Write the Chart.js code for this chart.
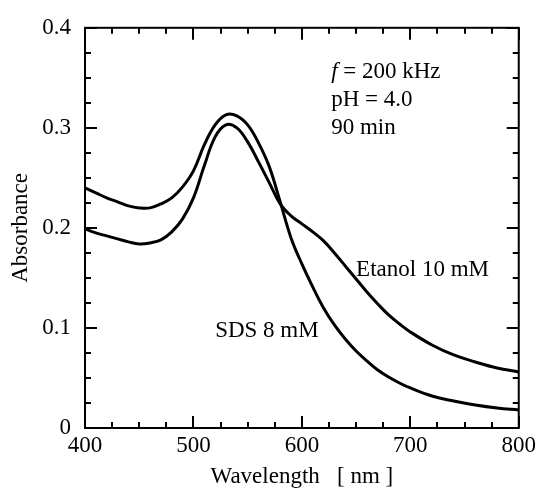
<!DOCTYPE html>
<html>
<head>
<meta charset="utf-8">
<script src="https://cdn.jsdelivr.net/npm/chart.js@4/dist/chart.umd.min.js"></script>
<style>
  html, body { margin: 0; padding: 0; background: #fff; }
  #wrap { width: 540px; height: 492px; position: relative; }
</style>
</head>
<body>
<div id="wrap"><canvas id="c" width="540" height="492"></canvas></div>
<script>
// ---- data ----
const sdsWavelength = [400, 410, 420, 430, 440, 450, 460, 470, 480, 490, 500, 510, 520, 530, 540, 550, 560, 570, 580, 590, 600, 610, 620, 630, 640, 650, 660, 670, 680, 690, 700, 720, 740, 760, 780, 800];
const sdsAbsorbance = [0.240, 0.235, 0.230, 0.226, 0.222, 0.220, 0.220, 0.224, 0.230, 0.241, 0.257, 0.283, 0.303, 0.313, 0.312, 0.303, 0.285, 0.261, 0.226, 0.190, 0.164, 0.141, 0.120, 0.103, 0.089, 0.077, 0.067, 0.058, 0.051, 0.045, 0.040, 0.032, 0.027, 0.023, 0.020, 0.018];

const etaWavelength = [400, 410, 420, 430, 440, 450, 460, 470, 480, 490, 500, 510, 520, 530, 540, 550, 560, 570, 580, 590, 600, 610, 620, 630, 640, 650, 660, 670, 680, 690, 700, 720, 740, 760, 780, 800];
const etaAbsorbance = [0.199, 0.195, 0.192, 0.189, 0.186, 0.184, 0.185, 0.188, 0.196, 0.209, 0.230, 0.262, 0.291, 0.303, 0.300, 0.286, 0.266, 0.245, 0.224, 0.212, 0.204, 0.196, 0.187, 0.175, 0.162, 0.149, 0.136, 0.124, 0.113, 0.104, 0.096, 0.083, 0.073, 0.066, 0.060, 0.056];

const xTickLabels = [400, 500, 600, 700, 800];
const yTickLabels = [0, 0.1, 0.2, 0.3, 0.4];
const xMinorTicks = [425, 450, 475, 525, 550, 575, 625, 650, 675, 725, 750, 775];
const yMinorTicks = [0.025, 0.05, 0.075, 0.125, 0.15, 0.175, 0.225, 0.25, 0.275, 0.325, 0.35, 0.375];

const seriesNames = ["SDS 8 mM", "Etanol 10 mM"];
const infoLines = [" = 200 kHz", "pH = 4.0", "90 min"];

const FONT = '"Liberation Serif", "Times New Roman", serif';
const FS = 23;

function toPts(xs, ys) { return xs.map((x, i) => ({ x: x, y: ys[i] })); }

const framePlugin = {
  id: 'frame',
  afterDatasetsDraw(chart) {
    const ctx = chart.ctx, a = chart.chartArea;
    const xs = chart.scales.x, ys = chart.scales.y;
    ctx.save();
    ctx.strokeStyle = '#000';
    ctx.lineWidth = 2;
    ctx.strokeRect(a.left, a.top, a.right - a.left, a.bottom - a.top);
    const MAJ = 12, MIN = 6;
    ctx.beginPath();
    xTickLabels.forEach(v => {
      const p = Math.round(xs.getPixelForValue(v));
      ctx.moveTo(p, a.bottom); ctx.lineTo(p, a.bottom - MAJ);
      ctx.moveTo(p, a.top); ctx.lineTo(p, a.top + MAJ);
    });
    xMinorTicks.forEach(v => {
      const p = Math.round(xs.getPixelForValue(v));
      ctx.moveTo(p, a.bottom); ctx.lineTo(p, a.bottom - MIN);
      ctx.moveTo(p, a.top); ctx.lineTo(p, a.top + MIN);
    });
    yTickLabels.forEach(v => {
      const p = Math.round(ys.getPixelForValue(v));
      ctx.moveTo(a.left, p); ctx.lineTo(a.left + MAJ, p);
      ctx.moveTo(a.right, p); ctx.lineTo(a.right - MAJ, p);
    });
    yMinorTicks.forEach(v => {
      const p = Math.round(ys.getPixelForValue(v));
      ctx.moveTo(a.left, p); ctx.lineTo(a.left + MIN, p);
      ctx.moveTo(a.right, p); ctx.lineTo(a.right - MIN, p);
    });
    ctx.stroke();

    // text annotations (anchored in data coordinates)
    ctx.fillStyle = '#000';
    ctx.textBaseline = 'alphabetic';
    ctx.textAlign = 'left';
    const ix = xs.getPixelForValue(627);
    const iy = ys.getPixelForValue(0.35);
    ctx.font = 'italic ' + FS + 'px ' + FONT;
    ctx.fillText('f', ix, iy);
    const fw = ctx.measureText('f').width;
    ctx.font = FS + 'px ' + FONT;
    ctx.fillText(infoLines[0], ix + fw, iy);
    ctx.fillText(infoLines[1], ix, iy + 28);
    ctx.fillText(infoLines[2], ix, iy + 56);

    ctx.fillText(seriesNames[1], xs.getPixelForValue(650), ys.getPixelForValue(0.152));
    ctx.fillText(seriesNames[0], xs.getPixelForValue(520), ys.getPixelForValue(0.0906));
    ctx.restore();
  }
};

new Chart(document.getElementById('c'), {
  type: 'line',
  data: {
    datasets: [
      { label: seriesNames[0], data: toPts(sdsWavelength, sdsAbsorbance), borderColor: '#000', borderWidth: 3, pointRadius: 0, tension: 0.4, fill: false },
      { label: seriesNames[1], data: toPts(etaWavelength, etaAbsorbance), borderColor: '#000', borderWidth: 3, pointRadius: 0, tension: 0.4, fill: false }
    ]
  },
  options: {
    responsive: false,
    animation: false,
    layout: { padding: { top: 22, right: 19, left: 7, bottom: 0 } },
    plugins: { legend: { display: false }, tooltip: { enabled: false } },
    scales: {
      x: {
        type: 'linear', min: 400, max: 800,
        afterBuildTicks: s => { s.ticks = xTickLabels.map(v => ({ value: v })); },
        afterFit: s => { s.height = 64; },
        grid: { display: false, drawTicks: false },
        border: { display: false },
        ticks: { color: '#000', font: { family: FONT, size: FS }, padding: 4, maxRotation: 0 },
        title: { display: true, text: 'Wavelength   [ nm ]', color: '#000', font: { family: FONT, size: FS }, padding: { top: 0, bottom: 1 } }
      },
      y: {
        type: 'linear', min: 0, max: 0.4,
        afterBuildTicks: s => { s.ticks = yTickLabels.map(v => ({ value: v })); },
        afterFit: s => { s.width = 78; },
        grid: { display: false, drawTicks: false },
        border: { display: false },
        ticks: { color: '#000', font: { family: FONT, size: FS }, padding: 14, callback: v => String(v) },
        title: { display: true, text: 'Absorbance', color: '#000', font: { family: FONT, size: FS }, padding: { top: 0, bottom: 0 } }
      }
    }
  },
  plugins: [framePlugin]
});
</script>
</body>
</html>
